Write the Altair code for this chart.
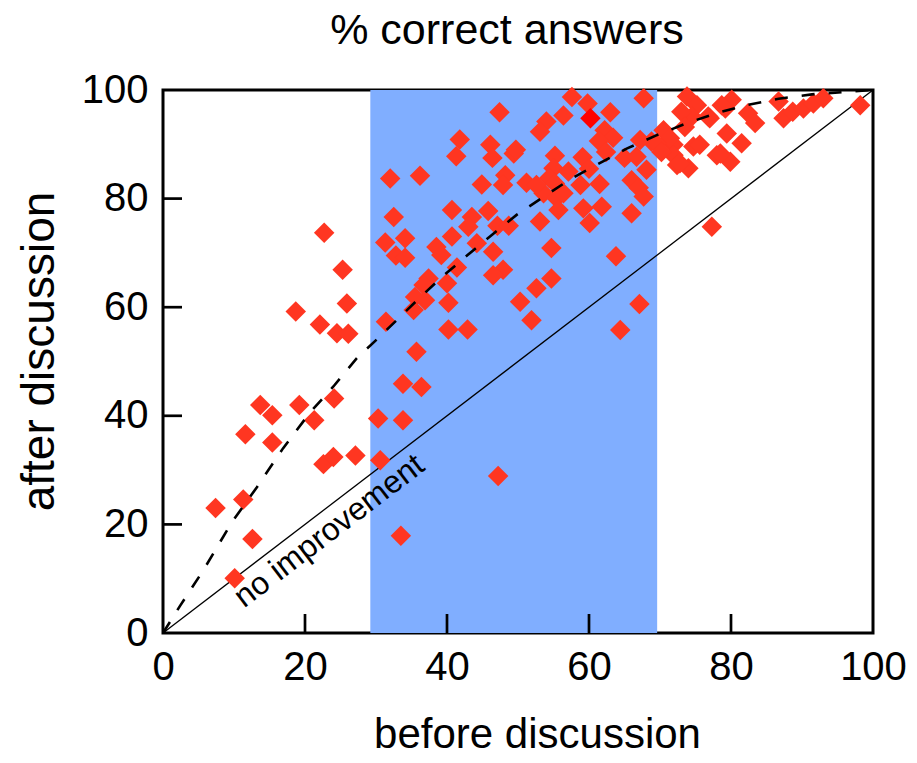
import altair as alt
import pandas as pd

# ---- data ----
before = [22.7, 25.3, 25.9, 18.7, 22.1, 24.5, 26.1, 13.7, 15.4, 19.2, 21.3, 24.1, 11.6, 15.4, 22.6, 24.0, 27.1,
          7.4, 11.3, 12.6, 10.1,
          30.3, 30.6, 33.8, 33.8, 36.4, 35.7, 33.5, 47.2,
          47.4, 41.8, 41.3, 46.1, 46.4, 49.4, 32.0, 36.2, 44.9, 48.2, 47.9, 32.5, 40.7, 45.8, 43.5, 43.0, 47.1, 48.7,
          31.3, 34.1, 32.8, 34.1, 38.5, 40.7, 39.2, 44.2, 46.5, 47.9, 46.5, 41.4, 37.4, 36.7, 40.0, 35.5, 36.9, 35.3,
          40.2, 31.4, 40.2, 42.9, 50.3, 52.6,
          57.6, 59.8, 67.7, 63.0, 56.4, 54.0, 53.1, 62.2, 63.4, 61.4, 68.8, 55.2, 59.1, 62.4, 65.0, 66.7, 68.1, 55.0,
          60.0, 54.4, 57.1, 51.2, 55.2, 58.8, 61.5, 66.0, 67.0, 53.6, 55.4, 56.4, 67.7, 55.7, 59.2, 61.8, 66.0, 53.1,
          60.1, 54.7, 63.8, 54.7, 51.9, 67.1, 64.4, 52.6, 49.7,
          70.5, 71.9, 73.8, 75.2, 80.1, 79.2, 82.4, 83.4, 86.7, 87.4, 88.7, 90.2, 91.6, 93.0, 98.2, 74.5, 73.0, 77.0,
          79.4, 81.5, 73.5, 74.7, 71.4, 71.9, 74.0, 72.4, 78.0, 79.9, 77.3, 78.7, 76.8, 69.5, 67.2, 70.2, 72.8, 75.6,
          78.5]
after = [73.7, 66.9, 60.7, 59.2, 56.8, 55.2, 55.1, 42.0, 40.1, 42.0, 39.2, 43.2, 36.6, 35.1, 31.1, 32.4, 32.7,
         23.0, 24.6, 17.3, 10.1,
         39.5, 31.8, 39.2, 45.9, 45.3, 51.8, 17.9, 28.9,
         95.9, 90.9, 87.8, 89.9, 87.5, 88.3, 83.7, 84.2, 82.6, 84.3, 82.5, 76.6, 77.9, 77.7, 76.6, 74.8, 75.0, 75.0,
         71.9, 72.7, 69.5, 69.1, 71.1, 73.0, 69.6, 71.8, 70.2, 66.9, 65.9, 67.3, 65.3, 64.1, 64.4, 61.9, 61.3, 59.5,
         60.8, 57.3, 55.9, 55.9, 61.0, 63.5,
         98.7, 97.5, 98.5, 95.9, 95.3, 94.2, 92.3, 92.6, 91.2, 90.6, 90.5, 87.9, 87.6, 88.6, 87.5, 87.7, 85.3, 85.6,
         85.5, 83.8, 85.0, 82.9, 82.8, 82.5, 82.7, 83.4, 82.0, 81.0, 80.1, 81.0, 80.4, 77.9, 78.2, 78.5, 77.3, 75.8,
         75.5, 70.9, 69.4, 65.3, 57.6, 60.6, 55.8, 82.5, 89.0,
         92.6, 89.9, 98.8, 97.2, 98.2, 96.6, 95.7, 93.9, 97.9, 94.8, 96.0, 96.6, 97.5, 98.5, 97.2, 95.1, 96.0, 94.8,
         92.0, 90.2, 93.2, 89.6, 91.1, 88.0, 85.6, 86.2, 88.0, 86.8, 74.8, 97.2, 95.1, 90.2, 90.8, 88.6, 86.5, 89.9,
         88.3]
highlight_before = [60.2]
highlight_after = [94.8]

curve_x = [0, 2.4, 5.7, 9.7, 13.2, 16.9, 20.7, 24.0, 27.3, 29.9, 32.9, 36.2, 39.5, 42.9, 46.4, 49.8, 53.7,
           57.4, 61.2, 65.3, 69.4, 73.6, 78.1, 82.2, 86.7, 91.4, 96.7, 100]
curve_y = [0, 5.0, 11.6, 20.4, 26.8, 34.0, 40.6, 45.4, 50.6, 53.8, 57.6, 61.8, 65.8, 69.6, 73.4, 77.0, 80.4,
           83.6, 86.3, 89.2, 91.6, 93.8, 95.8, 97.2, 98.4, 99.2, 99.7, 100]

band_start, band_end = 29.2, 69.6
diag = [0, 100]
tick_vals = [20, 40, 60, 80]
axis_vals = [0, 20, 40, 60, 80, 100]

FONT = "Liberation Sans"
W, H = 710, 543
POINT = "#ff3621"

pts = pd.DataFrame({"before": before, "after": after, "kind": ["normal"] * len(before)})
hl = pd.DataFrame({"before": highlight_before, "after": highlight_after, "kind": ["highlight"]})
allpts = pd.concat([pts, hl], ignore_index=True)
curve = pd.DataFrame({"x": curve_x, "y": curve_y})
band = pd.DataFrame({"x": [band_start], "x2": [band_end], "y": [0], "y2": [100]})
diag_df = pd.DataFrame({"x": diag, "y": diag})
ticks_df = pd.DataFrame({"v": tick_vals})
label_df = pd.DataFrame({"x": [23.4], "y": [18.8], "t": ["no improvement"]})

xscale = alt.Scale(domain=[0, 100], nice=False, zero=False)
yscale = alt.Scale(domain=[0, 100], nice=False, zero=False)

xaxis = alt.Axis(values=axis_vals, title="before discussion", ticks=False, domain=False, grid=False,
                 labelFontSize=40, labelFont=FONT, labelColor="black", labelPadding=14,
                 labelFlush=False, labelOverlap=False,
                 titleFontSize=42, titleFont=FONT, titleFontWeight="normal", titleColor="black",
                 titleX=374, titleY=114, titleBaseline="alphabetic", titleAlign="center")
yaxis = alt.Axis(values=axis_vals, title="after discussion", ticks=False, domain=False, grid=False,
                 labelFontSize=40, labelFont=FONT, labelColor="black", labelPadding=15,
                 labelFlush=False, labelOverlap=False,
                 titleFontSize=46, titleFont=FONT, titleFontWeight="normal", titleColor="black",
                 titleX=-110, titleY=261, titleBaseline="alphabetic", titleAlign="center", titleAngle=270)

band_layer = alt.Chart(band).mark_rect(color="#80aeff").encode(
    x=alt.X("x:Q", scale=xscale, axis=xaxis), x2="x2:Q",
    y=alt.Y("y:Q", scale=yscale, axis=yaxis), y2="y2:Q")

diag_layer = alt.Chart(diag_df).mark_line(color="black", strokeWidth=1.3).encode(
    x=alt.X("x:Q", scale=xscale), y=alt.Y("y:Q", scale=yscale))

pt_layer = alt.Chart(allpts).mark_point(shape="diamond", filled=True, size=420, opacity=1).encode(
    x=alt.X("before:Q", scale=xscale), y=alt.Y("after:Q", scale=yscale),
    color=alt.Color("kind:N", scale=alt.Scale(domain=["normal", "highlight"], range=[POINT, "#ff0000"]),
                    legend=None))

curve_layer = alt.Chart(curve).mark_line(color="black", strokeWidth=2.6, strokeDash=[13, 14]).encode(
    x=alt.X("x:Q", scale=xscale), y=alt.Y("y:Q", scale=yscale))

text_layer = alt.Chart(label_df).mark_text(font=FONT, fontSize=32, angle=322.6, align="center",
                                           baseline="middle", color="black").encode(
    x=alt.X("x:Q", scale=xscale), y=alt.Y("y:Q", scale=yscale), text="t:N")

xtick_layer = alt.Chart(ticks_df).mark_rule(color="black", strokeWidth=2.7).encode(
    x=alt.X("v:Q", scale=xscale), y=alt.value(H), y2=alt.value(H - 19))
ytick_layer = alt.Chart(ticks_df).mark_rule(color="black", strokeWidth=2.7).encode(
    y=alt.Y("v:Q", scale=yscale), x=alt.value(0), x2=alt.value(19))

chart = alt.layer(band_layer, diag_layer, pt_layer, curve_layer, text_layer, xtick_layer, ytick_layer).properties(
    width=W, height=H,
    title=alt.TitleParams("% correct answers", font=FONT, fontSize=43, fontWeight="normal", color="black",
                          anchor="middle", dx=-11, offset=17),
    autosize=alt.AutoSizeParams(type="none"),
    padding={"left": 155, "top": 82, "right": 36, "bottom": 122},
).configure(background="white").configure_view(stroke="black", strokeWidth=3)

chart.save("out.html", embed_options={"renderer": "svg", "actions": False})
